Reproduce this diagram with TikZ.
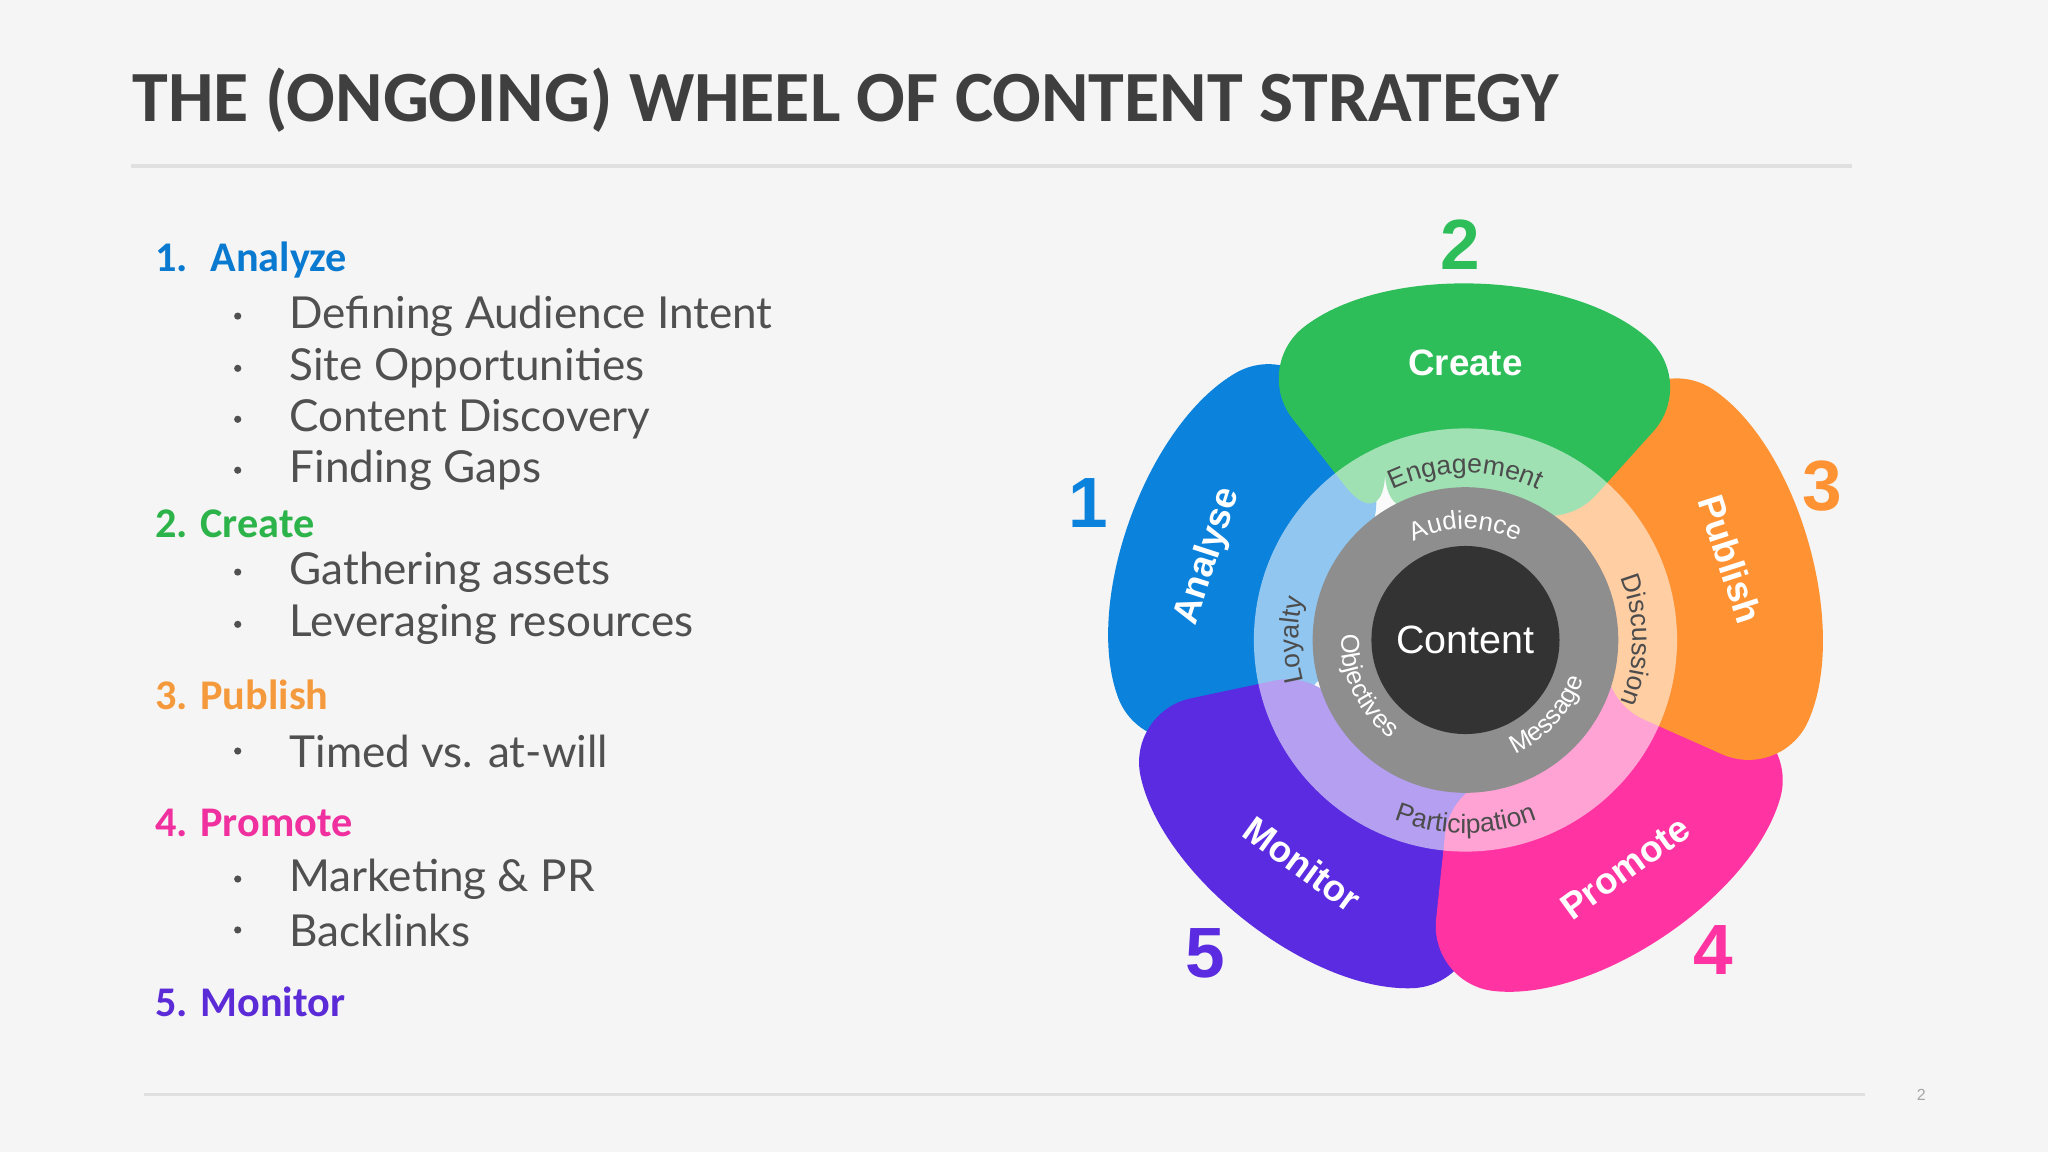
\documentclass[tikz,border=0pt]{standalone}
\usepackage{fontspec}
\setmainfont{Liberation Sans}
\newfontfamily\carl{Carlito}
\newfontfamily\lato{Lato}
\usetikzlibrary{decorations.text}
\definecolor{cblue}{HTML}{0B82DC}
\definecolor{cgreen}{HTML}{2DBE5A}
\definecolor{corange}{HTML}{FF9334}
\definecolor{cpink}{HTML}{FF34A2}
\definecolor{cpurple}{HTML}{5A2BE0}
\definecolor{hblue}{HTML}{0A7AD0}
\definecolor{hgreen}{HTML}{2CB34A}
\definecolor{horange}{HTML}{F59A3C}
\definecolor{hpink}{HTML}{F0309E}
\definecolor{hpurple}{HTML}{5A2BD6}
\definecolor{ttl}{HTML}{3F3F3F}
\definecolor{itm}{HTML}{505050}
\definecolor{ringgrey}{HTML}{8E8E8E}
\definecolor{core}{HTML}{333333}
\tikzset{
 head/.style={anchor=west,inner sep=0pt,font=\carl\bfseries\fontsize{9.2pt}{11pt}\selectfont},
 item/.style={anchor=west,inner sep=0pt,text=itm,font=\lato\fontsize{9.6pt}{11pt}\selectfont},
 bul/.style={circle,fill=itm,inner sep=0pt,minimum size=5.5*0.1mm},
 num/.style={inner sep=0pt,font=\bfseries\fontsize{15.5pt}{17pt}\selectfont},
 plab/.style={inner sep=0pt,text=white,font=\bfseries\fontsize{8pt}{9pt}\selectfont},
 ringtxt/.style={decorate,decoration={text along path,text align=center,text color=#1}},
}
\newcommand{\petal}[2]{\fill[#2,rounded corners=50*0.1mm] (#1+38:100) -- (#1+38:265) arc[start angle=#1+38,end angle=#1-42,radius=265] -- (#1-42:100) arc[start angle=#1-42,end angle=#1+38,radius=100] -- cycle;}
\begin{document}
\begin{tikzpicture}[x=0.1mm,y=0.1mm]
\fill[white!96!black] (0,0) rectangle (1568,-882);
\useasboundingbox (0,0) rectangle (1568,-882);
\node[anchor=west,inner sep=0pt,text=ttl,font=\carl\bfseries\fontsize{15.7pt}{18pt}\selectfont] (title) at (101,-77) {THE (ONGOING) WHEEL OF CONTENT STRATEGY};
\draw[line width=2.5*0.1mm,black!12] (100,-127) -- (1418,-127);
\draw[line width=2.5*0.1mm,black!12] (110,-838) -- (1428,-838);
\node[inner sep=0pt,text=black!35,font=\fontsize{3.5pt}{4pt}\selectfont] (pg) at (1471,-838) {2};
% list
\node[head,text=hblue] (h1) at (118,-199) {1.\hspace{5pt}Analyze};
\node[head,text=hgreen] (h2) at (118,-401) {2. Create};
\node[head,text=horange] (h3) at (118,-532) {3. Publish};
\node[head,text=hpink] (h4) at (118,-630) {4. Promote};
\node[head,text=hpurple] (h5) at (118,-767) {5. Monitor};
\foreach \y/\t in {242/Defining Audience Intent,282/Site Opportunities,321/Content Discovery,360/Finding Gaps,438/Gathering assets,478/Leveraging resources,575/Timed vs. at-will,673/Marketing \& PR,712/Backlinks}{
 \node[bul] (b\y) at (182,-\y) {};
 \node[item] (i\y) at (221,-\y) {\t};
}
% wheel
\begin{scope}[shift={(1122,-490)}]
\petal{162}{cblue}
\petal{-126}{cpurple}
\petal{-54}{cpink}
\petal{18}{corange}
\petal{90}{cgreen}
\fill[white,opacity=0.55] (0,0) circle[radius=162];
\fill[ringgrey] (0,0) circle[radius=117];
\fill[core] (0,0) circle[radius=72];
\node[inner sep=0pt,text=white,font=\fontsize{8.6pt}{10pt}\selectfont] (content) at (0,0) {Content};
\path[ringtxt=black!70,decoration={text={|\fontsize{5.8pt}{6pt}\selectfont|Engagement}}] (120:128) arc[start angle=120,end angle=60,radius=128];
\path[ringtxt=black!70,decoration={text={|\fontsize{5.8pt}{6pt}\selectfont|Discussion}}] (30:128) arc[start angle=30,end angle=-30,radius=128];
\path[ringtxt=black!70,decoration={text={|\fontsize{5.8pt}{6pt}\selectfont|Participation}}] (238:148) arc[start angle=238,end angle=302,radius=148];
\path[ringtxt=black!70,decoration={text={|\fontsize{5.8pt}{6pt}\selectfont|Loyalty}}] (205:128) arc[start angle=205,end angle=155,radius=128];
\path[ringtxt=white,decoration={text={|\fontsize{5.6pt}{6pt}\selectfont|Audience}}] (115:85) arc[start angle=115,end angle=65,radius=85];
\path[ringtxt=white,decoration={text={|\fontsize{5.6pt}{6pt}\selectfont|Objectives}}] (165:95) arc[start angle=165,end angle=245,radius=95];
\path[ringtxt=white,decoration={text={|\fontsize{5.6pt}{6pt}\selectfont|Message}}] (-75:95) arc[start angle=-75,end angle=-10,radius=95];
\node[plab,rotate=72] (la) at (162:207) {Analyse};
\node[plab] (lc) at (90:212) {Create};
\node[plab,rotate=-72] (lp) at (17:212) {Publish};
\node[plab,rotate=36] (lpr) at (-55:213) {Promote};
\node[plab,rotate=-36] (lm) at (-126:212) {Monitor};
\end{scope}
\node[num,text=cgreen] (n2) at (1118,-187) {2};
\node[num,text=cblue] (n1) at (833,-385) {1};
\node[num,text=corange] (n3) at (1395,-372) {3};
\node[num,text=cpink] (n4) at (1312,-727) {4};
\node[num,text=cpurple] (n5) at (923,-730) {5};
\end{tikzpicture}
\end{document}
